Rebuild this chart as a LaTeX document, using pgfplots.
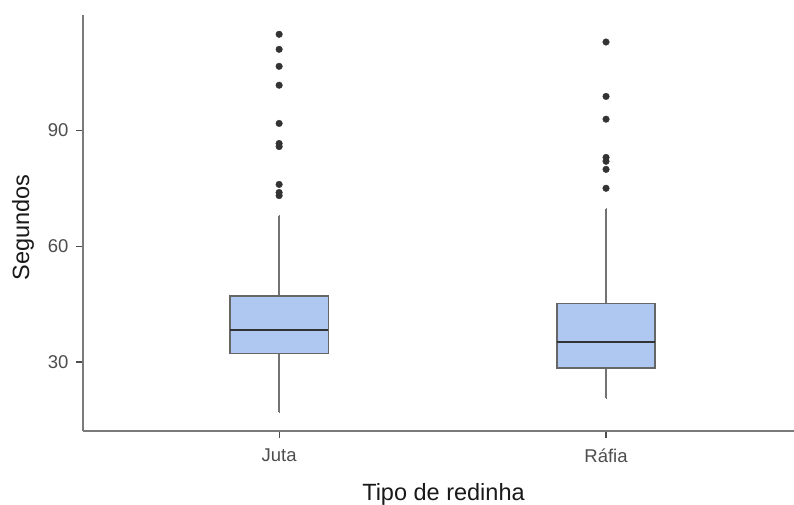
\documentclass[border=0pt]{standalone}
\usepackage{pgfplots}
\pgfplotsset{compat=1.18}
\usepgfplotslibrary{statistics}
\usepackage{fontspec}
\setmainfont{Liberation Sans}
\definecolor{boxfill}{HTML}{AEC8F1}
\definecolor{tickgray}{HTML}{4D4D4D}
\definecolor{axisgray}{HTML}{7A7A7A}
\definecolor{ptgray}{HTML}{333333}
\begin{document}
\begin{tikzpicture}
\useasboundingbox (-83pt,-74pt) rectangle (711pt,431pt);
\begin{axis}[
  at={(0pt,0pt)}, anchor=south west,
  scale only axis, width=711pt, height=416pt,
  xmin=40, xmax=257.5, ymin=12.1, ymax=119.9,
  axis x line*=bottom, axis y line*=left,
  axis line style={-, draw=axisgray, line width=1.2pt},
  xtick={100,200}, xticklabels={Juta, Ráfia},
  ytick={30,60,90},
  tick align=outside, major tick length=7pt,
  tick style={draw=tickgray, line width=1.2pt},
  /pgf/number format/assume math mode=true,
  ticklabel style={font=\fontsize{18.5}{20}\selectfont, text=tickgray},
  xticklabel style={yshift=-7pt},
  yticklabel style={xshift=-4pt},
  xlabel={Tipo de redinha}, ylabel={Segundos},
  label style={font=\fontsize{23.5}{26}\selectfont, text=black!90},
  xlabel style={at={(axis description cs:0.507,-0.1659)}, anchor=base},
  ylabel style={at={(axis description cs:-0.0844,0.49)}, anchor=center},
  boxplot/draw direction=y,
  boxplot/box extend=30,
  boxplot/whisker extend=0.01,
  boxplot/every box/.style={fill=boxfill, draw=black!60, line width=1.3pt},
  boxplot/every whisker/.style={draw=black!55, line width=1.4pt},
  boxplot/every median/.style={draw=black!80, line width=2.6pt},
]
\addplot[boxplot prepared={draw position=100, lower whisker=17, lower quartile=32.2, median=38.3, upper quartile=47.1, upper whisker=67.9},
  draw=black!55, line width=1.4pt,
  mark=*, mark size=3.3pt, mark options={fill=ptgray, draw=ptgray, line width=0.4pt}]
  table[row sep=\\, y index=0]{114.9\\ 111.0\\ 106.6\\ 101.7\\ 91.8\\ 86.6\\ 85.8\\ 76.0\\ 73.9\\ 73.1\\};
\addplot[boxplot prepared={draw position=200, lower whisker=20.6, lower quartile=28.4, median=35.2, upper quartile=45.1, upper whisker=69.7},
  draw=black!55, line width=1.4pt,
  mark=*, mark size=3.3pt, mark options={fill=ptgray, draw=ptgray, line width=0.4pt}]
  table[row sep=\\, y index=0]{112.9\\ 98.8\\ 92.9\\ 83.0\\ 82.0\\ 79.9\\ 75.0\\};
\end{axis}
\end{tikzpicture}
\end{document}
